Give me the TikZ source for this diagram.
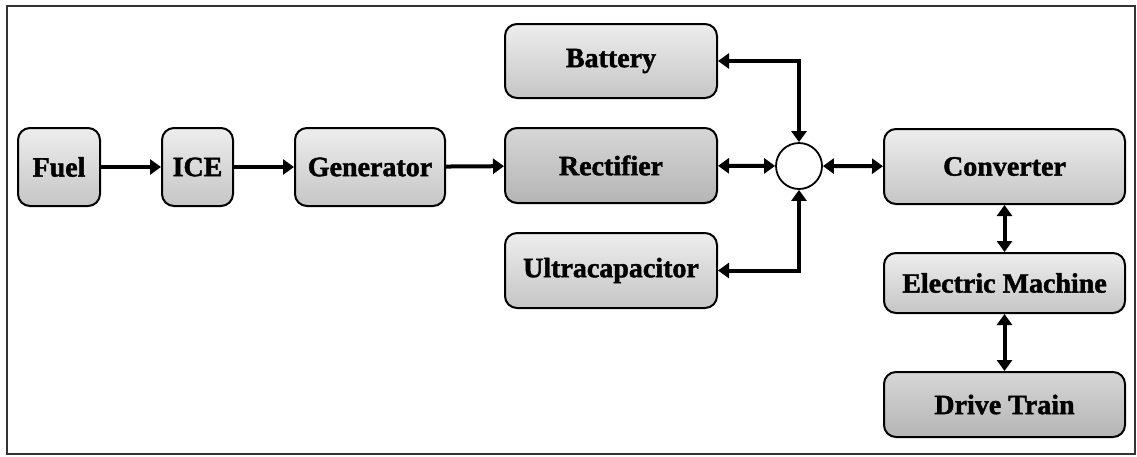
\documentclass[tikz,border=0pt]{standalone}
\usepackage{fontspec}
\setmainfont{Liberation Serif}
\newfontfamily\blkfont{Liberation Serif Bold}[FakeBold=1.5]
\usetikzlibrary{arrows.meta}
\begin{document}
\begin{tikzpicture}[x=1pt,y=-1pt,
  blk/.style={draw=black, line width=2pt, rounded corners=12pt, inner sep=0pt,
    top color=gray!14, bottom color=gray!45, font=\fontsize{28}{30}\selectfont\blkfont},
  dark/.style={top color=gray!32, bottom color=gray!58},
  conn/.style={line width=4pt, -{Triangle[length=11pt,width=15pt]}},
  dconn/.style={line width=4pt, {Triangle[length=11pt,width=15pt]}-{Triangle[length=11pt,width=15pt]}},
  junc/.style={circle, draw=black, line width=1.8pt, fill=white, minimum size=46pt, inner sep=0pt}]
\useasboundingbox (0,0) rectangle (1137,456);
\draw[line width=1.5pt, black!80] (7,6) rectangle (1135,454);
\node[blk, minimum width=82pt, minimum height=78pt] (fuel) at (59,167) {Fuel};
\node[blk, minimum width=71pt, minimum height=78pt] (ice) at (197.5,167) {ICE};
\node[blk, minimum width=150pt, minimum height=78pt] (gen) at (370,167) {Generator};
\node[blk, minimum width=212pt, minimum height=74pt] (bat) at (611,61) {Battery};
\node[blk, dark, minimum width=212pt, minimum height=75pt] (rect) at (611,165.5) {Rectifier};
\node[blk, minimum width=212pt, minimum height=75pt] (ultra) at (611,270.5) {Ultracapacitor};
\node[junc] (junc) at (799,166) {};
\node[blk, minimum width=241pt, minimum height=75pt] (conv) at (1004.5,166.5) {Converter};
\node[blk, minimum width=241pt, minimum height=60pt] (em) at (1004.5,283) {Electric Machine};
\node[blk, dark, minimum width=241pt, minimum height=65pt] (dt) at (1004.5,404.5) {Drive Train};
\draw[conn] (fuel) -- (ice);
\draw[conn] (ice) -- (gen);
\draw[conn] (gen) -- (rect);
\draw[dconn] (rect) -- (junc);
\draw[dconn] (junc) -- (conv);
\draw[dconn] (bat.east) -| (junc.north);
\draw[dconn] (ultra.east) -| (junc.south);
\draw[dconn] (conv) -- (em);
\draw[dconn] (em) -- (dt);
\end{tikzpicture}
\end{document}
